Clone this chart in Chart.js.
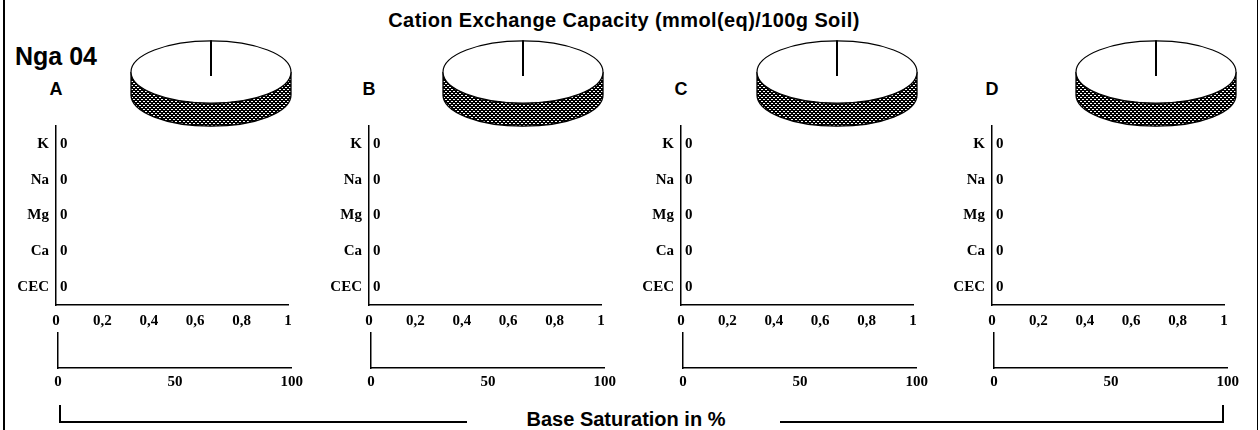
<!DOCTYPE html>
<html><head><meta charset="utf-8">
<script src="https://cdn.jsdelivr.net/npm/chart.js@4.4.0/dist/chart.umd.min.js"></script>
<style>
html,body{margin:0;padding:0;background:#fff;width:1260px;height:430px;overflow:hidden;position:relative;}
canvas{position:absolute;}
.t{position:absolute;transform:translate(-50%,-50%);font-family:"Liberation Sans",Arial,sans-serif;font-weight:bold;color:#000;white-space:nowrap;line-height:1;}
.ln{position:absolute;background:#000;}
</style></head><body>
<div class="ln" style="left:3px;top:0;width:2px;height:430px"></div>
<div class="ln" style="left:1257px;top:0;width:1px;height:430px"></div>
<div class="t" style="left:624px;top:20px;font-size:20px;letter-spacing:0.4px">Cation Exchange Capacity (mmol(eq)/100g Soil)</div>
<div class="t" style="left:15px;top:56px;font-size:25px;transform:translate(0,-50%)">Nga 04</div>
<div class="ln" style="left:59px;top:405px;width:1.5px;height:18px"></div>
<div class="ln" style="left:59px;top:421px;width:408px;height:1.5px"></div>
<div class="ln" style="left:780px;top:421px;width:444px;height:1.5px"></div>
<div class="ln" style="left:1222px;top:405px;width:1.5px;height:18px"></div>
<div class="t" style="left:626px;top:419px;font-size:20px">Base Saturation in %</div>
<script>
// ---- data ----
const categories = ['K', 'Na', 'Mg', 'Ca', 'CEC'];
const panelNames = ['A', 'B', 'C', 'D'];
const valuesA = [0, 0, 0, 0, 0];
const valuesB = [0, 0, 0, 0, 0];
const valuesC = [0, 0, 0, 0, 0];
const valuesD = [0, 0, 0, 0, 0];
const xTickLabels = ['0', '0,2', '0,4', '0,6', '0,8', '1'];
const xMin = 0, xMax = 1, xStep = 0.2;
const baseSatTickLabels = ['0', '50', '100'];
const baseSatMin = 0, baseSatMax = 100, baseSatStep = 50;
const baseSatValues = [0, 0, 0, 0];
const pieCategories = ['K', 'Na', 'Mg', 'Ca', 'Rest'];
const pieA = [0, 0, 0, 0, 100];
const pieB = [0, 0, 0, 0, 100];
const pieC = [0, 0, 0, 0, 100];
const pieD = [0, 0, 0, 0, 100];

// ---- layout ----
const panelX = [56, 369, 681, 992];
const pieCx = [211, 523, 837, 1156];
const pieCy = 72;
const pieR = 80, pieTilt = 0.39, pieDepth = 23;
const valueSets = [valuesA, valuesB, valuesC, valuesD];
const pieSets = [pieA, pieB, pieC, pieD];

const serif = '"Liberation Serif", "Times New Roman", serif';
const tickFont = {family: serif, size: 15, weight: 'bold'};

function makeCtx(left, top, w, h) {
  const c = document.createElement('canvas');
  c.width = w; c.height = h;
  c.style.left = left + 'px'; c.style.top = top + 'px';
  c.style.width = w + 'px'; c.style.height = h + 'px';
  document.body.appendChild(c);
  return c.getContext('2d');
}
function addText(txt, x, y, size) {
  const d = document.createElement('div');
  d.className = 't'; d.textContent = txt;
  d.style.left = x + 'px'; d.style.top = y + 'px'; d.style.fontSize = size + 'px';
  document.body.appendChild(d);
}

const valueLabels = {
  id: 'valueLabels',
  afterDatasetsDraw(chart) {
    const ctx = chart.ctx;
    ctx.save();
    ctx.font = 'bold 15px ' + serif;
    ctx.fillStyle = '#000'; ctx.textAlign = 'left'; ctx.textBaseline = 'middle';
    chart.data.datasets.forEach((ds, di) => {
      chart.getDatasetMeta(di).data.forEach((el, i) => {
        ctx.fillText(String(ds.data[i]), el.x + 4, el.y);
      });
    });
    ctx.restore();
  }
};

function hatchPattern(ctx) {
  const p = document.createElement('canvas');
  p.width = 4; p.height = 4;
  const c = p.getContext('2d');
  c.fillStyle = '#000'; c.fillRect(0, 0, 4, 4);
  c.fillStyle = '#fff';
  [[0,0],[1,0],[2,2],[3,2]].forEach(([x,y]) => c.fillRect(x, y, 1, 1));
  return ctx.createPattern(p, 'repeat');
}

const pie3d = {
  id: 'pie3d',
  beforeDatasetsDraw(chart) {
    const ctx = chart.ctx;
    const el = chart.getDatasetMeta(0).data[0];
    const x = el.x, y = el.y, r = el.outerRadius, ry = r * pieTilt;
    ctx.save();
    ctx.beginPath();
    ctx.ellipse(x, y, r, ry, 0, 0, Math.PI, false);
    ctx.lineTo(x - r, y + pieDepth);
    ctx.ellipse(x, y + pieDepth, r, ry, 0, Math.PI, 0, true);
    ctx.closePath();
    ctx.fillStyle = hatchPattern(ctx);
    ctx.fill();
    ctx.lineWidth = 1.3; ctx.strokeStyle = '#000';
    ctx.stroke();
    ctx.restore();
    ctx.save();
    ctx.translate(x, y); ctx.scale(1, pieTilt); ctx.translate(-x, -y);
  },
  afterDatasetsDraw(chart) {
    const ctx = chart.ctx;
    ctx.restore();
    const els = chart.getDatasetMeta(0).data;
    const el = els[0];
    const x = el.x, y = el.y, r = el.outerRadius, ry = r * pieTilt;
    ctx.save();
    ctx.strokeStyle = '#000'; ctx.lineWidth = 1.2;
    ctx.beginPath();
    ctx.ellipse(x, y, r, ry, 0, 0, Math.PI * 2);
    ctx.stroke();
    ctx.lineWidth = 1.5;
    els.forEach(a => {
      ctx.beginPath();
      ctx.moveTo(x, y + 4);
      ctx.lineTo(x + r * Math.cos(a.startAngle), y + ry * Math.sin(a.startAngle));
      ctx.stroke();
    });
    ctx.restore();
  }
};

panelNames.forEach((name, i) => {
  const px = panelX[i];
  addText(name, px, 89, 18);

  // pie
  const pw = 180, ph = 130;
  const pctx = makeCtx(pieCx[i] - pw / 2, pieCy - ph / 2, pw, ph);
  new Chart(pctx, {
    type: 'pie',
    data: {labels: pieCategories, datasets: [{data: pieSets[i], backgroundColor: '#fff', borderWidth: 0, radius: pieR, clip: false}]},
    options: {
      responsive: false, animation: false, devicePixelRatio: 1,
      layout: {padding: 0},
      plugins: {legend: {display: false}, tooltip: {enabled: false}}
    },
    plugins: [pie3d]
  });

  // cation bar chart
  const yW = 56, axisLen = 232, padR = 14, top = 110;
  const bctx = makeCtx(px - yW, top, yW + axisLen + padR, 225);
  new Chart(bctx, {
    type: 'bar',
    data: {labels: categories, datasets: [{data: valueSets[i], backgroundColor: '#000', borderWidth: 0, barPercentage: 0.5}]},
    options: {
      responsive: false, animation: false, devicePixelRatio: 1, indexAxis: 'y',
      layout: {padding: {top: 9, right: padR, left: 0, bottom: 0}},
      plugins: {legend: {display: false}, tooltip: {enabled: false}},
      scales: {
        x: {
          type: 'linear', min: xMin, max: xMax,
          grid: {display: false, drawTicks: false},
          border: {display: true, color: '#000', width: 1.5},
          ticks: {stepSize: xStep, autoSkip: false, maxRotation: 0, padding: 7, color: '#000', font: tickFont,
                  callback: (v, k) => xTickLabels[k]},
          afterFit: s => { s.height = 30; }
        },
        y: {
          grid: {display: false, drawTicks: false},
          border: {display: true, color: '#000', width: 1.5},
          ticks: {padding: 7, color: '#000', font: tickFont},
          afterFit: s => { s.width = yW; }
        }
      }
    },
    plugins: [valueLabels]
  });

  // base saturation axis
  const yW2 = 58, axisLen2 = 234, padR2 = 16, top2 = 326;
  const sctx = makeCtx(px - 56, top2, yW2 + axisLen2 + padR2, 70);
  new Chart(sctx, {
    type: 'bar',
    data: {labels: [''], datasets: [{data: [baseSatValues[i]], backgroundColor: '#000', borderWidth: 0}]},
    options: {
      responsive: false, animation: false, devicePixelRatio: 1, indexAxis: 'y',
      layout: {padding: {top: 7, right: padR2, left: 0, bottom: 0}},
      plugins: {legend: {display: false}, tooltip: {enabled: false}},
      scales: {
        x: {
          type: 'linear', min: baseSatMin, max: baseSatMax,
          grid: {display: false, drawTicks: false},
          border: {display: true, color: '#000', width: 1.5},
          ticks: {stepSize: baseSatStep, autoSkip: false, maxRotation: 0, padding: 5, color: '#000', font: tickFont,
                  callback: (v, k) => baseSatTickLabels[k]},
          afterFit: s => { s.height = 28; }
        },
        y: {
          grid: {display: false, drawTicks: false},
          border: {display: true, color: '#000', width: 1.5},
          ticks: {display: false},
          afterFit: s => { s.width = yW2; }
        }
      }
    }
  });
});
</script>
</body></html>
